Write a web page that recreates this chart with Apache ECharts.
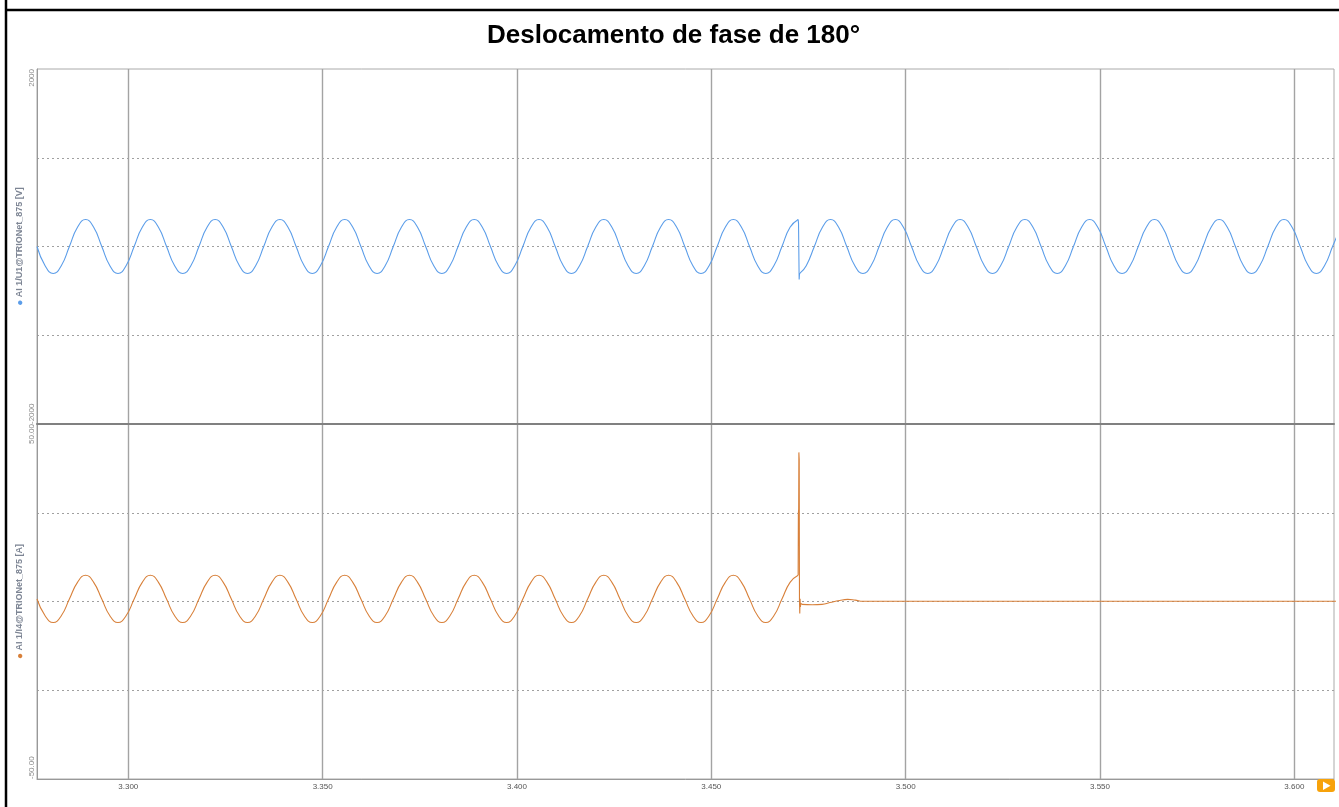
<!DOCTYPE html>
<html><head><meta charset="utf-8">
<script src="https://cdn.jsdelivr.net/npm/echarts@6/dist/echarts.min.js"></script>
<style>html,body{margin:0;padding:0;background:#fff}#c{width:1339px;height:807px}</style>
</head><body><div id="c"></div>
<script>
const chartTitle = 'Deslocamento de fase de 180°';
const voltageName = 'AI 1/U1@TRIONet_875 [V]';
const currentName = 'AI 1/I4@TRIONet_875 [A]';
const xMin = 3.27651, xMax = 3.61021;
const voltageLimits = [-2000, 2000];
const currentLimits = [-50, 50];
const voltageLabels = {'2000': '2000', '-2000': '-2000'};
const currentLabels = {'50': '50.00', '-50': '-50.00'};
const sampleStart = 3.27651;
const sampleStep = 1 / 480;

// voltage samples 0..94 (before the 180° phase jump)
const voltageBefore = [
  0,-216,-305,-216,0,216,305,216,
  0,-216,-305,-216,0,216,305,216,
  0,-216,-305,-216,0,216,305,216,
  0,-216,-305,-216,0,216,305,216,
  0,-216,-305,-216,0,216,305,216,
  0,-216,-305,-216,0,216,305,216,
  0,-216,-305,-216,0,216,305,216,
  0,-216,-305,-216,0,216,305,216,
  0,-216,-305,-216,0,216,305,216,
  0,-216,-305,-216,0,216,305,216,
  0,-216,-305,-216,0,216,305,216,
  0,-216,-305,-216,0,216,305
];
const voltageJumpT = [3.47234, 3.47244, 3.47260, 3.47268, 3.47282];
const voltageJumpV = [305, 260, -372, -312, -300];
// voltage samples 95..161 (after the jump)
const voltageAfter = [
  -216,
  0,216,305,216,0,-216,-305,-216,
  0,216,305,216,0,-216,-305,-216,
  0,216,305,216,0,-216,-305,-216,
  0,216,305,216,0,-216,-305,-216,
  0,216,305,216,0,-216,-305,-216,
  0,216,305,216,0,-216,-305,-216,
  0,216,305,216,0,-216,-305,-216,
  0,216,305,216,0,-216,-305,-216,
  0,216
];
// current samples 0..94
const currentBefore = [
  0.7,-4.0,-5.9,-4.0,0.7,5.4,7.4,5.4,
  0.7,-4.0,-5.9,-4.0,0.7,5.4,7.4,5.4,
  0.7,-4.0,-5.9,-4.0,0.7,5.4,7.4,5.4,
  0.7,-4.0,-5.9,-4.0,0.7,5.4,7.4,5.4,
  0.7,-4.0,-5.9,-4.0,0.7,5.4,7.4,5.4,
  0.7,-4.0,-5.9,-4.0,0.7,5.4,7.4,5.4,
  0.7,-4.0,-5.9,-4.0,0.7,5.4,7.4,5.4,
  0.7,-4.0,-5.9,-4.0,0.7,5.4,7.4,5.4,
  0.7,-4.0,-5.9,-4.0,0.7,5.4,7.4,5.4,
  0.7,-4.0,-5.9,-4.0,0.7,5.4,7.4,5.4,
  0.7,-4.0,-5.9,-4.0,0.7,5.4,7.4,5.4,
  0.7,-4.0,-5.9,-4.0,0.7,5.4,7.4
];
const currentSpikeT = [3.47234, 3.47240, 3.47248, 3.47253, 3.47262, 3.47268, 3.47276, 3.47284, 3.47292, 3.47305, 3.47330];
const currentSpikeI = [7.4, 25, 26, 42, 40, 0.5, -3.4, 0.8, -1.5, -0.5, -0.8];
const currentTailT = [3.4760, 3.4785, 3.4805, 3.4830, 3.4851, 3.4870, 3.4890, 3.5500, 3.6110];
const currentTailI = [-0.9, -0.8, -0.3, 0.3, 0.6, 0.4, 0.05, 0.05, 0.05];

const blue = '#5b9de9';
const orange = '#d8803a';
const fontFamily = 'Liberation Sans, Arial, sans-serif';

const sampled = (arr, offset) => arr.map((v, i) => [sampleStart + (offset + i) * sampleStep, v]);
const paired = (ts, vs) => ts.map((t, k) => [t, vs[k]]);

const vPre = sampled(voltageBefore, 0);
const vJump = paired(voltageJumpT, voltageJumpV);
const vPost = [vJump[vJump.length - 1]].concat(sampled(voltageAfter, 95));
const iPre = sampled(currentBefore, 0);
const iSpike = paired(currentSpikeT, currentSpikeI);
const iTail = [iSpike[iSpike.length - 1]].concat(paired(currentTailT, currentTailI));

function line(data, idx, color, smooth) {
  return {type: 'line', data, xAxisIndex: idx, yAxisIndex: idx, smooth, showSymbol: false,
    silent: true, lineStyle: {color, width: 1.1}, itemStyle: {color}, z: 5};
}

function xAxis(idx, showLabels) {
  return {
    type: 'value', gridIndex: idx, min: xMin, max: xMax, splitNumber: 6,
    axisLine: {show: true, onZero: false, lineStyle: idx === 0 ? {color: '#808080', width: 2} : {color: '#999', width: 1}},
    axisTick: {show: false},
    axisLabel: {show: showLabels, showMinLabel: false, showMaxLabel: false, margin: 4,
      fontSize: 8, color: '#555', fontFamily, formatter: v => v.toFixed(3)},
    splitLine: {show: true, showMinLine: false, showMaxLine: false,
      lineStyle: {color: '#a3a3a3', width: 1.4, type: 'solid'}}
  };
}

function yAxis(idx, lim, labels, name, color) {
  return {
    type: 'value', gridIndex: idx, min: lim[0], max: lim[1], interval: (lim[1] - lim[0]) / 4,
    axisLine: {show: true, lineStyle: {color: '#999', width: 1}},
    axisTick: {show: false},
    axisLabel: {show: true, rotate: 90, margin: 1, fontSize: 8, color: '#8a8a8a', fontFamily,
      alignMinLabel: 'left', alignMaxLabel: 'right',
      formatter: v => labels[String(v)] || ''},
    splitLine: {show: true, showMinLine: false, showMaxLine: false,
      lineStyle: {color: '#a0a0a0', width: 1, type: [2, 3]}},
    name: '{dot|●} ' + name, nameLocation: 'middle', nameRotate: 90, nameGap: 12,
    nameMoveOverlap: false,
    nameTextStyle: {fontSize: 9, fontWeight: 'bold', color: '#7d8594', fontFamily,
      rich: {dot: {color, fontSize: 10}}}
  };
}

const chart = echarts.init(document.getElementById('c'), null, {renderer: 'canvas'});
chart.setOption({
  animation: false,
  backgroundColor: '#fff',
  title: {text: chartTitle, left: 487, top: 23, padding: 0,
    textStyle: {fontFamily, fontWeight: 'bold', fontSize: 26, color: '#000'}},
  grid: [
    {left: 37, right: 5, top: 69, height: 355, show: true, borderColor: '#aaa', borderWidth: 1},
    {left: 37, right: 5, top: 424, height: 355, show: true, borderColor: '#aaa', borderWidth: 1}
  ],
  xAxis: [xAxis(0, false), xAxis(1, true)],
  yAxis: [yAxis(0, voltageLimits, voltageLabels, voltageName, blue),
          yAxis(1, currentLimits, currentLabels, currentName, orange)],
  series: [
    line(vPre, 0, blue, true), line(vJump, 0, blue, false), line(vPost, 0, blue, true),
    line(iPre, 1, orange, true), line(iSpike, 1, orange, false), line(iTail, 1, orange, true)
  ],
  graphic: [
    {type: 'line', z: 100, shape: {x1: 6, y1: 0, x2: 6, y2: 807}, style: {stroke: '#000', lineWidth: 2.5}},
    {type: 'line', z: 100, shape: {x1: 6, y1: 10, x2: 1339, y2: 10}, style: {stroke: '#000', lineWidth: 2.5}},
    {type: 'rect', z: 100, shape: {x: 1317, y: 779, width: 18, height: 13, r: 3}, style: {fill: '#f7a20a'}},
    {type: 'polygon', z: 101, shape: {points: [[1323, 781.5], [1323, 790], [1330.5, 785.8]]}, style: {fill: '#fff'}}
  ]
});
</script></body></html>
